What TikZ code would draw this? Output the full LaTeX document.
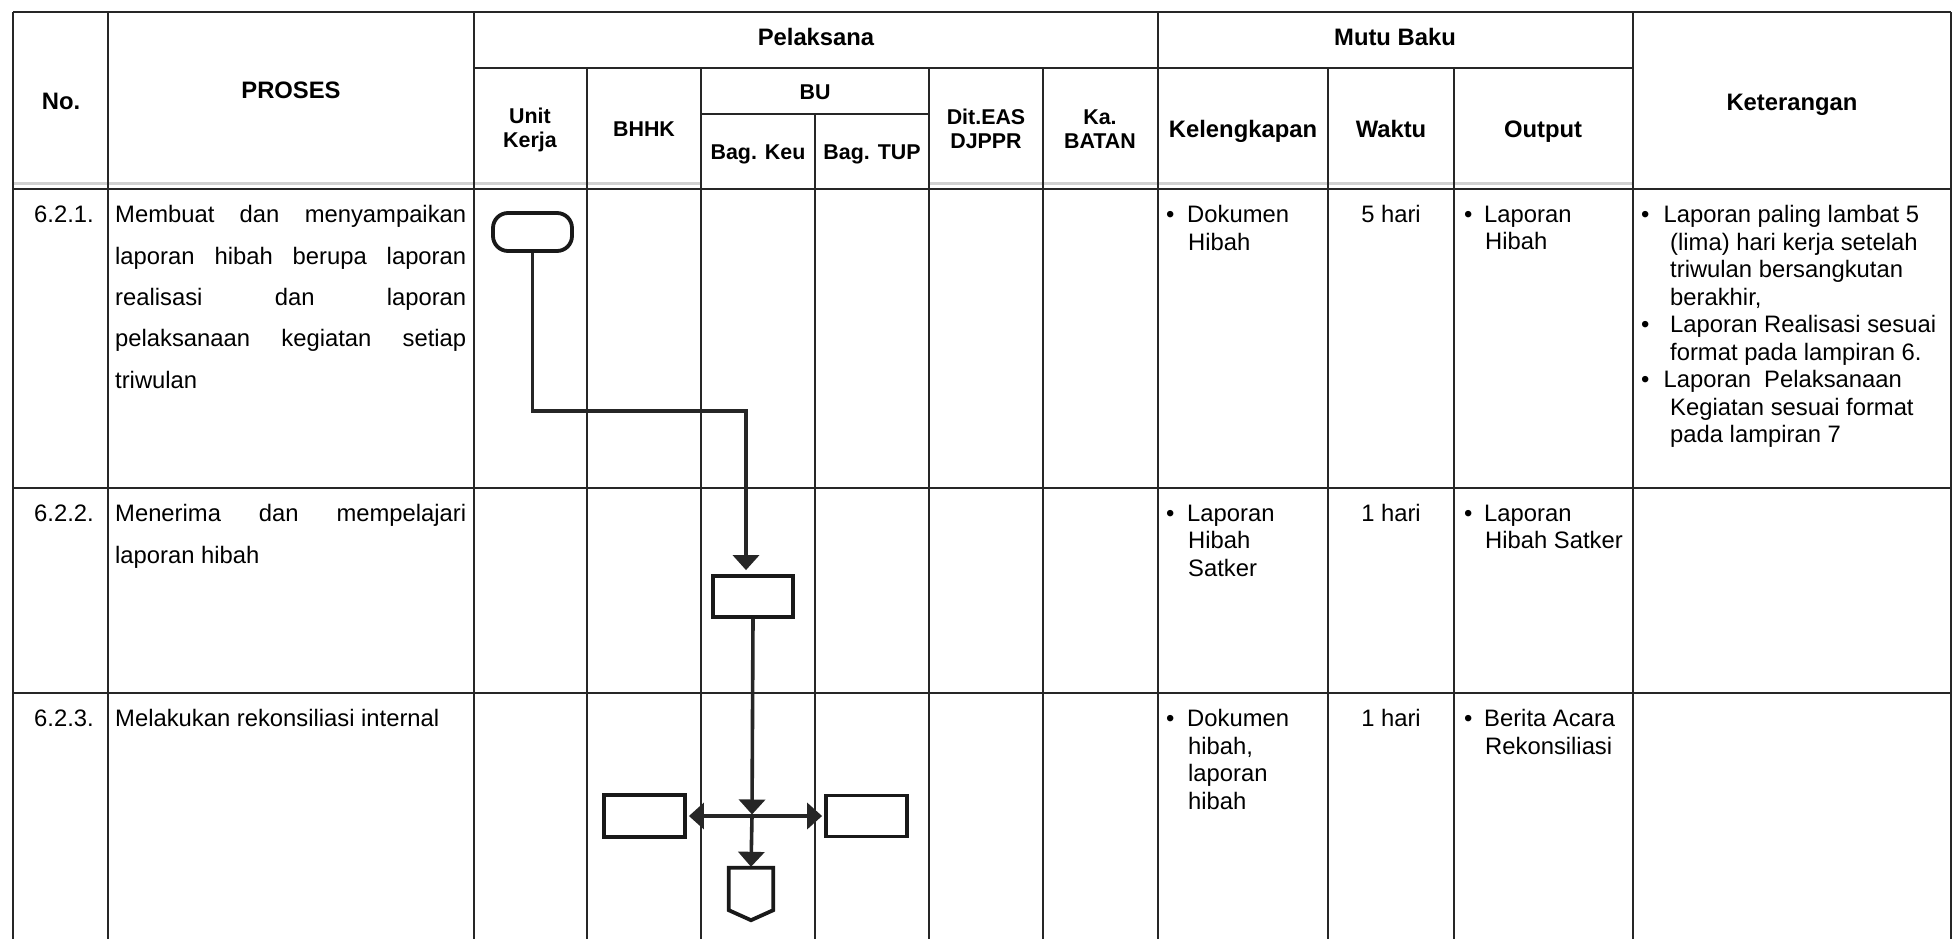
\documentclass[tikz,border=0pt]{standalone}
\usepackage{fontspec}
\setmainfont{Liberation Sans}
\usetikzlibrary{arrows.meta}
\begin{document}
\begin{tikzpicture}[x=1pt,y=-1pt,
  tline/.style={draw=black!85,line width=1.3pt},
  band/.style={draw=black!18,line width=3.5pt},
  hmain/.style={font=\fontsize{23.8pt}{27.5pt}\selectfont\bfseries,inner sep=0pt,align=center},
  hsub/.style={font=\fontsize{21.4pt}{23.5pt}\selectfont\bfseries,inner sep=0pt,align=center},
  cell/.style={font=\fontsize{23.8pt}{27.5pt}\selectfont,inner sep=0pt,align=left,anchor=north west},
  proc/.style={font=\fontsize{23.8pt}{41.3pt}\selectfont,inner sep=0pt,align=left,anchor=north west},
  fbox/.style={draw=black!90,line width=3.8pt,fill=white,inner sep=0pt},
  flow/.style={draw=black!85,line width=3.6pt},
  tip/.style={-{Triangle[length=15pt,width=26pt]}},
  tips/.style={{Triangle[length=15pt,width=26pt]}-{Triangle[length=15pt,width=26pt]}},
]
\useasboundingbox (0,0) rectangle (1954,939);
\fill[white] (0,0) rectangle (1954,939);

% ---------- table grid ----------
\draw[band] (13,183.5) -- (701,183.5) (929,183.5) -- (1633,183.5);
\draw[tline] (13,12) -- (1951,12);
\draw[tline] (474,68) -- (1633,68);
\draw[tline] (701,114) -- (929,114);
\draw[tline] (13,189) -- (1951,189);
\draw[tline] (13,488) -- (1951,488);
\draw[tline] (13,693) -- (1951,693);
\foreach \x in {13,108,474,1158,1633,1951} {\draw[tline] (\x,12) -- (\x,939);}
\foreach \x in {587,701,929,1043,1328,1454} {\draw[tline] (\x,68) -- (\x,939);}
\draw[tline] (815,114) -- (815,939);

% ---------- header ----------
\node[hmain,anchor=base] (hno) at (61,109.5) {No.};
\node[hmain,anchor=base] (hpro) at (291,99) {PROSES};
\node[hmain,anchor=base] (hpel) at (816,46) {Pelaksana};
\node[hmain,anchor=base] (hmutu) at (1395,46) {Mutu Baku};
\node[hmain,anchor=base] (hket) at (1792,110.5) {Keterangan};
\node[hmain,anchor=base] (hkel) at (1243,137.5) {Kelengkapan};
\node[hmain,anchor=base] (hwak) at (1391,137.5) {Waktu};
\node[hmain,anchor=base] (hout) at (1543,137.5) {Output};
\node[hsub] (hunit) at (530,130) {Unit\\Kerja};
\node[hsub,anchor=base] (hbhhk) at (644,136.7) {BHHK};
\node[hsub,anchor=base] (hbu) at (815,99.7) {BU};
\node[hsub,anchor=base] (hkeu) at (758,159.7) {Bag. Keu};
\node[hsub,anchor=base] (htup) at (872,159.7) {Bag. TUP};
\node[hsub] (hdit) at (986,129) {Dit.EAS\\DJPPR};
\node[hsub] (hka) at (1100,129) {Ka.\\BATAN};

% ---------- row 6.2.1 ----------
\node[cell] (n1) at (34,205.5) {6.2.1.};
\node[proc] (p1) at (115,205.5) {\makebox[351pt][s]{Membuat dan menyampaikan}\\\makebox[351pt][s]{laporan hibah berupa laporan}\\\makebox[351pt][s]{realisasi dan laporan}\\\makebox[351pt][s]{pelaksanaan kegiatan setiap}\\triwulan};
\node[cell] (k1) at (1166,205.5) {\makebox[21pt][l]{•}Dokumen\\\hspace*{22pt}Hibah};
\node[cell,anchor=north] (w1) at (1391,205.5) {5 hari};
\node[cell] (o1) at (1464,205.5) {\makebox[20pt][l]{•}Laporan\\\hspace*{21pt}Hibah};
\node[cell] (t1) at (1641,205.5) {\makebox[22.5pt][l]{•}Laporan paling lambat 5\\
\hspace*{29pt}(lima) hari kerja setelah\\
\hspace*{29pt}triwulan bersangkutan\\
\hspace*{29pt}berakhir,\\
\makebox[29pt][l]{•}Laporan Realisasi sesuai\\
\hspace*{29pt}format pada lampiran 6.\\
\makebox[22.5pt][l]{•}Laporan\ \ Pelaksanaan\\
\hspace*{29pt}Kegiatan sesuai format\\
\hspace*{29pt}pada lampiran 7};

% ---------- row 6.2.2 ----------
\node[cell] (n2) at (34,504.5) {6.2.2.};
\node[proc] (p2) at (115,504.5) {\makebox[351pt][s]{Menerima dan mempelajari}\\laporan hibah};
\node[cell] (k2) at (1166,504.5) {\makebox[21pt][l]{•}Laporan\\\hspace*{22pt}Hibah\\\hspace*{22pt}Satker};
\node[cell,anchor=north] (w2) at (1391,504.5) {1 hari};
\node[cell] (o2) at (1464,504.5) {\makebox[20pt][l]{•}Laporan\\\hspace*{21pt}Hibah Satker};

% ---------- row 6.2.3 ----------
\node[cell] (n3) at (34,709.5) {6.2.3.};
\node[proc] (p3) at (115,709.5) {Melakukan rekonsiliasi internal};
\node[cell] (k3) at (1166,709.5) {\makebox[21pt][l]{•}Dokumen\\\hspace*{22pt}hibah,\\\hspace*{22pt}laporan\\\hspace*{22pt}hibah};
\node[cell,anchor=north] (w3) at (1391,709.5) {1 hari};
\node[cell] (o3) at (1464,709.5) {\makebox[20pt][l]{•}Berita Acara\\\hspace*{21pt}Rekonsiliasi};

% ---------- flowchart ----------
\node[fbox,rounded corners=15pt,minimum width=79pt,minimum height=38pt] (term) at (532.5,232) {};
\node[fbox,minimum width=80pt,minimum height=41pt] (keu) at (753,596.5) {};
\node[fbox,minimum width=81pt,minimum height=42pt] (bhhk) at (644.5,816) {};
\node[fbox,minimum width=81pt,minimum height=41pt] (tup) at (866.5,816) {};
\node[inner sep=0pt,minimum width=44pt,minimum height=52pt] (opc) at (751,894) {};
\draw[fbox] (opc.north west) -- (opc.north east) -- ([yshift=10pt]opc.south east) -- (opc.south) -- ([yshift=10pt]opc.south west) -- cycle;

\coordinate (c1) at (746,411);
\coordinate (j) at (752,816);
\draw[flow,tip,shorten >=4pt] (term.south) |- (c1) -- (c1 |- keu.north);
\draw[flow,tip,shorten >=1.5pt] (keu.south) -- (j);
\draw[flow,tips,shorten >=2pt,shorten <=2pt] (bhhk.east) -- (tup.west);
\draw[flow,tip,shorten >=1pt] (j) -- (opc.north);
\end{tikzpicture}
\end{document}
